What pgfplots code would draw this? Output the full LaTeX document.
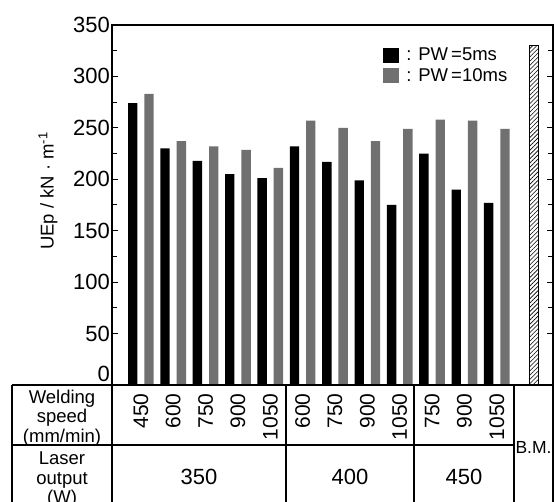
\documentclass[border=0pt]{standalone}
\usepackage{fontspec}
\setmainfont{Liberation Sans}
\usepackage{pgfplots}
\pgfplotsset{compat=1.18}
\usetikzlibrary{patterns.meta}
\definecolor{barg}{RGB}{112,112,112}
\begin{document}
\begin{tikzpicture}
\begin{axis}[
  scale only axis, width=441pt, height=360pt,
  xmin=-0.891, xmax=12.737, ymin=0, ymax=350,
  xtick=\empty,
  ytick={50,100,...,350}, minor y tick num=1,
  extra y ticks={0},
  extra y tick style={yticklabel style={yshift=11pt}},
  ytick pos=both, yticklabel pos=left,
  tick align=inside, major tick length=6pt, minor tick length=5pt,
  axis line style={line width=1.4pt},
  tick style={line width=1pt, black},
  /pgf/number format/assume math mode=true,
  yticklabel style={font=\fontsize{22}{22}\selectfont, inner xsep=2pt},
  ylabel={UEp / kN · m\textsuperscript{-1}},
  ylabel style={font=\fontsize{18.5}{18.5}\selectfont, at={(axis description cs:-0.145,0.539)}, anchor=center},
  clip=false,
  legend style={at={(axis description cs:0.6145,0.9417)}, anchor=north west, draw=none, fill=none,
    font=\fontsize{18.5}{18.5}\selectfont, inner sep=0pt, row sep=2pt},
  legend cell align=left,
  legend image code/.code={\fill[#1] (0pt,-7.5pt) rectangle (16pt,7.5pt);},
]
\addplot[ybar, bar width=0.29, fill=black, draw=none] coordinates {
  (-0.252,274) (0.748,230) (1.748,218) (2.748,205) (3.748,201)
  (4.748,232) (5.748,217) (6.748,199) (7.748,175)
  (8.748,225) (9.748,190) (10.748,177)};
\addlegendentry{\ : PW\,=5ms}
\addplot[ybar, bar width=0.29, fill=barg, draw=none] coordinates {
  (0.252,283) (1.252,237) (2.252,232) (3.252,228.5) (4.252,211)
  (5.252,257) (6.252,250) (7.252,237) (8.252,249)
  (9.252,258) (10.252,257) (11.252,249)};
\addlegendentry{\ : PW\,=10ms}
\addplot[ybar, bar width=0.25, draw=black, line width=1pt,
  pattern={Lines[angle=45,distance=3pt,line width=0.6pt]}, forget plot] coordinates {(12.15,330)};
% table below the axis
\draw[line width=1.4pt] (axis cs:-3.982,0) -- (axis cs:12.737,0);
\draw[line width=1.4pt] (axis cs:-3.982,-58.33) -- (axis cs:11.531,-58.33);
\pgfplotsinvokeforeach{-3.982,-0.891,4.485,8.441,11.531,12.737}{
  \draw[line width=1.4pt] (axis cs:#1,0) -- (axis cs:#1,-130);
}
\node[align=center, font=\fontsize{18.5}{19.5}\selectfont] at (axis cs:-2.436,-32) {Welding\\speed\\(mm/min)};
\node[align=center, font=\fontsize{18.5}{19.5}\selectfont] at (axis cs:-2.436,-92) {Laser\\output\\(W)};
\node[font=\fontsize{17.5}{17.5}\selectfont] at (axis cs:12.134,-60.3) {B.M.};
\node[font=\fontsize{22}{22}\selectfont] at (axis cs:1.797,-89.1) {350};
\node[font=\fontsize{22}{22}\selectfont] at (axis cs:6.463,-89.1) {400};
\node[font=\fontsize{22}{22}\selectfont] at (axis cs:9.986,-89.1) {450};
\tikzset{sp/.style={rotate=90, anchor=east, inner sep=0pt, font=\fontsize{21}{21}\selectfont}}
\node[sp] at (axis cs:0,-8) {450};
\node[sp] at (axis cs:1,-8) {600};
\node[sp] at (axis cs:2,-8) {750};
\node[sp] at (axis cs:3,-8) {900};
\node[sp] at (axis cs:4,-8) {1050};
\node[sp] at (axis cs:5,-8) {600};
\node[sp] at (axis cs:6,-8) {750};
\node[sp] at (axis cs:7,-8) {900};
\node[sp] at (axis cs:8,-8) {1050};
\node[sp] at (axis cs:9,-8) {750};
\node[sp] at (axis cs:10,-8) {900};
\node[sp] at (axis cs:11,-8) {1050};
\coordinate (bbsw) at (axis cs:-4.353,-113.75);
\coordinate (bbne) at (axis cs:12.799,374.3);
\end{axis}
\pgfresetboundingbox
\path[use as bounding box] (bbsw) rectangle (bbne);
\end{tikzpicture}
\end{document}
